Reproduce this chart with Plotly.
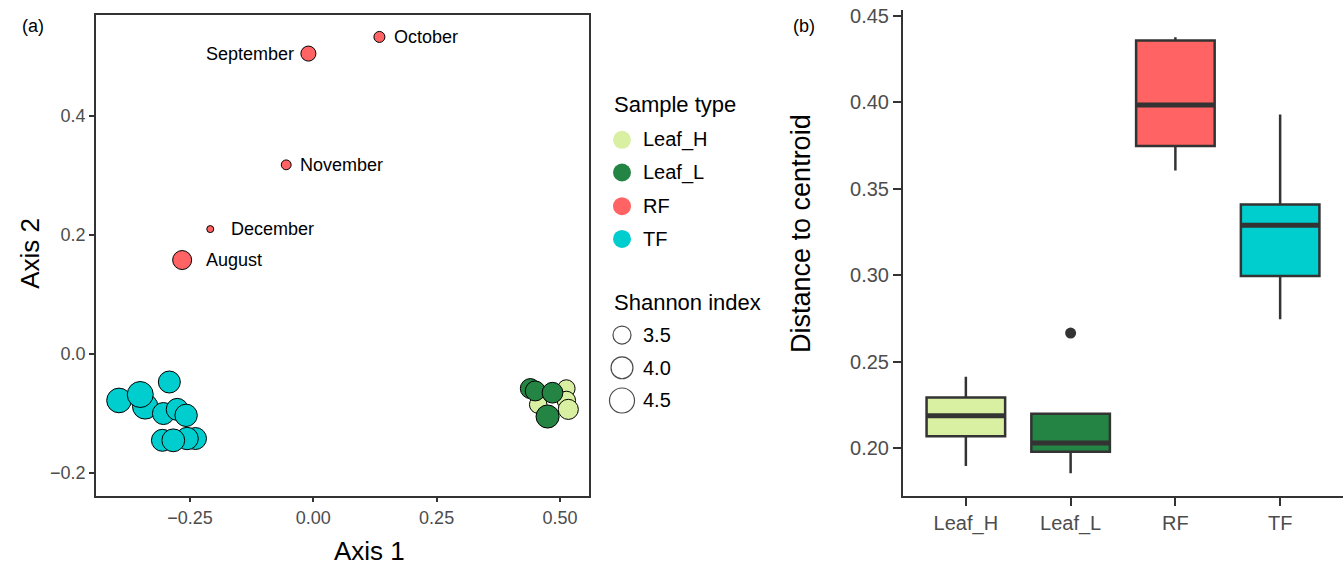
import plotly.graph_objects as go

# ---------------- data ----------------
# Panel (a): PCoA ordination
rf_months = ["August", "September", "October", "November", "December"]
rf_x = [-0.266, -0.010, 0.134, -0.055, -0.209]
rf_y = [0.158, 0.505, 0.533, 0.318, 0.210]
rf_shannon = [3.61, 3.22, 2.98, 2.94, 2.90]

tf_x = [-0.292, -0.394, -0.341, -0.351, -0.304, -0.276, -0.258, -0.239, -0.256, -0.306, -0.284]
tf_y = [-0.047, -0.078, -0.088, -0.068, -0.100, -0.093, -0.103, -0.142, -0.142, -0.145, -0.145]
tf_shannon = [4.01, 4.44, 4.57, 4.68, 4.01, 4.01, 4.07, 4.01, 4.07, 4.01, 4.13]

leafh_x = [0.513, 0.513, 0.456, 0.517]
leafh_y = [-0.058, -0.078, -0.085, -0.093]
leafh_shannon = [3.45, 3.55, 3.45, 3.75]

leafl_x = [0.440, 0.450, 0.485, 0.475]
leafl_y = [-0.058, -0.062, -0.065, -0.105]
leafl_shannon = [3.73, 3.73, 3.83, 4.18]

# Panel (b): distance to centroid box statistics
categories = ["Leaf_H", "Leaf_L", "RF", "TF"]
box_lower = [0.1897, 0.1855, 0.3606, 0.2745]
box_q1 = [0.2069, 0.1979, 0.3747, 0.2995]
box_median = [0.2187, 0.2030, 0.3985, 0.3289]
box_q3 = [0.2292, 0.2198, 0.4357, 0.3409]
box_upper = [0.2412, 0.2198, 0.4376, 0.3930]
outlier_cat = ["Leaf_L"]
outlier_val = [0.2665]

shannon_legend = [3.5, 4.0, 4.5]

# ---------------- styles ----------------
colors = {"Leaf_H": "#D9F0A3", "Leaf_L": "#238443", "RF": "#FF6363", "TF": "#00CDCD"}
FONT = "Liberation Sans, Arial, Helvetica, sans-serif"
TICK_COL = "#4D4D4D"
LINE_COL = "#333333"
W, H = 1344, 568

all_sh = rf_shannon + tf_shannon + leafh_shannon + leafl_shannon
S_MIN, S_MAX = min(all_sh), max(all_sh)
D_MIN, D_MAX = 7, 26


def diam(s):
    # area-proportional size scale (as ggplot's scale_size)
    f = max(0.0, (s - S_MIN) / (S_MAX - S_MIN))
    return D_MIN + (D_MAX - D_MIN) * f ** 0.5


fig = go.Figure()

def add_pts(xs, ys, ss, col):
    fig.add_trace(go.Scatter(
        x=xs, y=ys, mode="markers", xaxis="x", yaxis="y", showlegend=False,
        marker=dict(size=[diam(s) for s in ss], color=col,
                    line=dict(color="black", width=1), opacity=1)))

add_pts(tf_x, tf_y, tf_shannon, colors["TF"])
add_pts(leafh_x, leafh_y, leafh_shannon, colors["Leaf_H"])
add_pts(leafl_x, leafl_y, leafl_shannon, colors["Leaf_L"])
add_pts(rf_x, rf_y, rf_shannon, colors["RF"])

annotations = []
label_shift = {"August": 22, "September": -12, "October": 13, "November": 12, "December": 19}
for m, x, y in zip(rf_months, rf_x, rf_y):
    sh = label_shift[m]
    annotations.append(dict(
        x=x, y=y, xref="x", yref="y", text=m, showarrow=False,
        xanchor="left" if sh > 0 else "right", yanchor="middle", xshift=sh,
        font=dict(family=FONT, size=18, color="black")))

# ---------------- panel (b) ----------------
pos = {c: i + 1 for i, c in enumerate(categories)}
bw = 0.75
for i, c in enumerate(categories):
    fig.add_trace(go.Box(
        x=[pos[c]], q1=[box_q1[i]], median=[box_median[i]], q3=[box_q3[i]],
        lowerfence=[box_lower[i]], upperfence=[box_upper[i]],
        xaxis="x2", yaxis="y2", width=bw, whiskerwidth=0,
        fillcolor=colors[c], line=dict(color=LINE_COL, width=2.5),
        boxpoints=False, showlegend=False, hoverinfo="skip"))

fig.add_trace(go.Scatter(
    x=[pos[c] for c in outlier_cat], y=outlier_val, mode="markers",
    xaxis="x2", yaxis="y2", showlegend=False,
    marker=dict(size=11, color=LINE_COL)))

shapes = []
for i, c in enumerate(categories):
    shapes.append(dict(type="line", xref="x2", yref="y2",
                       x0=pos[c] - bw / 2, x1=pos[c] + bw / 2,
                       y0=box_median[i], y1=box_median[i],
                       line=dict(color=LINE_COL, width=5)))

# ---------------- manual legend (pixel overlay axis) ----------------
leg_x = 622
type_y = [136, 169, 203, 236]
fig.add_trace(go.Scatter(
    x=[leg_x] * 4, y=type_y, mode="markers", xaxis="x3", yaxis="y3",
    showlegend=False, hoverinfo="skip",
    marker=dict(size=18, color=[colors[c] for c in categories], line=dict(width=0))))
size_y = [333, 366, 399]
fig.add_trace(go.Scatter(
    x=[leg_x] * 3, y=size_y, mode="markers", xaxis="x3", yaxis="y3",
    showlegend=False, hoverinfo="skip",
    marker=dict(size=[diam(s) for s in shannon_legend], color="white",
                line=dict(color="black", width=1.2))))

lf = dict(family=FONT, size=20, color="black")
ltf = dict(family=FONT, size=22, color="black")
annotations.append(dict(x=612, y=100, xref="x3", yref="y3", text="Sample type",
                        showarrow=False, xanchor="left", yanchor="middle", font=ltf))
for c, yy in zip(categories, type_y):
    annotations.append(dict(x=641, y=yy, xref="x3", yref="y3", text=c,
                            showarrow=False, xanchor="left", yanchor="middle", font=lf))
annotations.append(dict(x=612, y=300, xref="x3", yref="y3", text="Shannon index",
                        showarrow=False, xanchor="left", yanchor="middle", font=ltf))
for s, yy in zip(shannon_legend, size_y):
    annotations.append(dict(x=641, y=yy, xref="x3", yref="y3", text=f"{s:.1f}",
                            showarrow=False, xanchor="left", yanchor="middle", font=lf))

# panel labels
pf = dict(family=FONT, size=18, color="black")
annotations.append(dict(x=33, y=21, xref="x3", yref="y3", text="(a)", showarrow=False,
                        xanchor="center", yanchor="middle", font=pf))
annotations.append(dict(x=804, y=21, xref="x3", yref="y3", text="(b)", showarrow=False,
                        xanchor="center", yanchor="middle", font=pf))

# axis titles
annotations.append(dict(x=369, y=551, xref="x3", yref="y3", text="Axis 1", showarrow=False,
                        xanchor="center", yanchor="middle",
                        font=dict(family=FONT, size=26, color="black")))
annotations.append(dict(x=30, y=251, xref="x3", yref="y3", text="Axis 2", showarrow=False,
                        xanchor="center", yanchor="middle", textangle=-90,
                        font=dict(family=FONT, size=26, color="black")))
annotations.append(dict(x=801, y=231, xref="x3", yref="y3", text="Distance to centroid",
                        showarrow=False, xanchor="center", yanchor="middle", textangle=-90,
                        font=dict(family=FONT, size=27, color="black")))

# ---------------- layout ----------------
tickfont = dict(family=FONT, size=18, color=TICK_COL)
tickfont2 = dict(family=FONT, size=20, color=TICK_COL)

fig.update_layout(
    width=W, height=H, margin=dict(l=0, r=0, t=0, b=0),
    plot_bgcolor="rgba(0,0,0,0)", paper_bgcolor="white",
    annotations=annotations, shapes=shapes,
    xaxis=dict(domain=[96 / W, 589 / W], range=[-0.4407, 0.559], anchor="y",
               tickvals=[-0.25, 0, 0.25, 0.5], ticktext=["\u22120.25", "0.00", "0.25", "0.50"],
               showgrid=False, zeroline=False, showline=True, mirror=True,
               linecolor=LINE_COL, linewidth=1.5, ticks="outside", ticklen=5,
               tickcolor=LINE_COL, tickwidth=1.5, tickfont=tickfont,
               ticklabeloverflow="allow"),
    yaxis=dict(domain=[1 - 495 / H, 1 - 10 / H], range=[-0.238, 0.57], anchor="x",
               tickvals=[-0.2, 0, 0.2, 0.4], ticktext=["\u22120.2", "0.0", "0.2", "0.4"],
               showgrid=False, zeroline=False, showline=True, mirror=True,
               linecolor=LINE_COL, linewidth=1.5, ticks="outside", ticklen=5,
               tickcolor=LINE_COL, tickwidth=1.5, tickfont=tickfont,
               ticklabeloverflow="allow"),
    xaxis2=dict(domain=[903 / W, 1343 / W], range=[0.4, 4.6], anchor="y2",
                tickvals=[pos[c] for c in categories], ticktext=categories,
                showgrid=False, zeroline=False, showline=True,
                linecolor=LINE_COL, linewidth=2, ticks="outside", ticklen=8,
                tickcolor=LINE_COL, tickwidth=2, tickfont=tickfont2,
                ticklabeloverflow="allow"),
    yaxis2=dict(domain=[1 - 495 / H, 1 - 5 / H], range=[0.1725, 0.4534], anchor="x2",
                tickvals=[0.20, 0.25, 0.30, 0.35, 0.40, 0.45],
                ticktext=["0.20", "0.25", "0.30", "0.35", "0.40", "0.45"],
                showgrid=False, zeroline=False, showline=True,
                linecolor=LINE_COL, linewidth=2, ticks="outside", ticklen=8,
                tickcolor=LINE_COL, tickwidth=2, tickfont=tickfont2,
                ticklabeloverflow="allow"),
    xaxis3=dict(domain=[0, 1], range=[0, W], visible=False, fixedrange=True, anchor="y3"),
    yaxis3=dict(domain=[0, 1], range=[H, 0], visible=False, fixedrange=True, anchor="x3"),
)

fig.write_html("out.html")
